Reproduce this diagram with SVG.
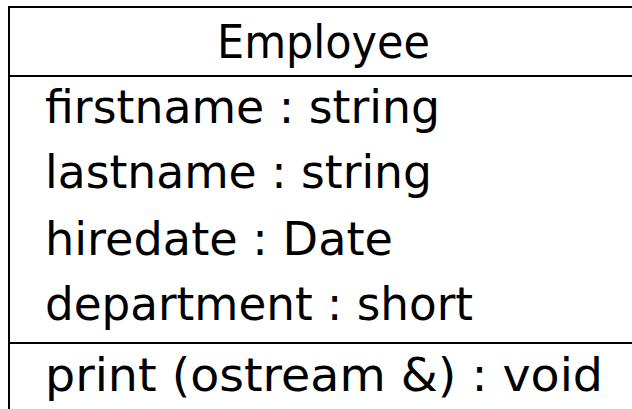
<svg xmlns="http://www.w3.org/2000/svg" width="632" height="409" viewBox="0 0 632 409">
<style>
.t{font-family:"DejaVu Sans","Liberation Sans",sans-serif;font-size:47px;fill:#000}
.ln{stroke:#000;stroke-width:2;fill:none}
</style>
<rect width="632" height="409" fill="#fff"/>
<g id="Employee">
<g id="frame">
<line class="ln" x1="9" y1="7" x2="632" y2="7"/>
<line class="ln" x1="9" y1="76" x2="632" y2="76"/>
<line class="ln" x1="9" y1="343" x2="632" y2="343"/>
<line class="ln" x1="9" y1="6" x2="9" y2="409"/>
</g>
<text class="t" x="217" y="58" textLength="213" lengthAdjust="spacingAndGlyphs">Employee</text>
<text class="t" x="45" y="123" textLength="395" lengthAdjust="spacingAndGlyphs">firstname : string</text>
<text class="t" x="45" y="188" textLength="387" lengthAdjust="spacingAndGlyphs">lastname : string</text>
<text class="t" x="45" y="255" textLength="348" lengthAdjust="spacingAndGlyphs">hiredate : Date</text>
<text class="t" x="45" y="320" textLength="428" lengthAdjust="spacingAndGlyphs">department : short</text>
<text class="t" x="45" y="391" textLength="558" lengthAdjust="spacingAndGlyphs">print (ostream &amp;) : void</text>
</g>
</svg>
